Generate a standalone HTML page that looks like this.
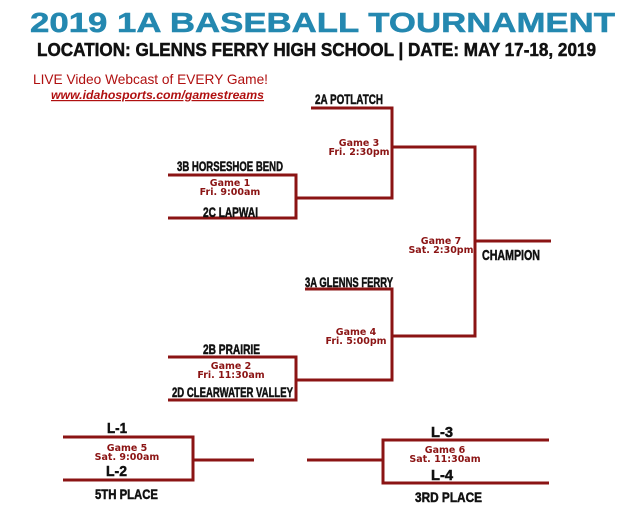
<!DOCTYPE html>
<html><head><meta charset="utf-8"><style>
html,body{margin:0;padding:0;background:#fff;width:640px;height:523px;overflow:hidden}
svg{display:block}
.t{font-family:"Liberation Sans",sans-serif;font-weight:bold;fill:#111;stroke:#111;stroke-width:0.5}
.g{font-family:"DejaVu Sans",sans-serif;font-weight:bold;fill:#8b1414;font-size:9.5px}
</style></head><body>
<svg width="640" height="523" viewBox="0 0 640 523">
<text x="30" y="32" class="t" style="fill:#2488b0;stroke:#2488b0;font-size:28px" textLength="585" lengthAdjust="spacingAndGlyphs">2019 1A BASEBALL TOURNAMENT</text>
<text x="37" y="56" class="t" style="font-size:18px" textLength="559" lengthAdjust="spacingAndGlyphs">LOCATION: GLENNS FERRY HIGH SCHOOL | DATE: MAY 17-18, 2019</text>
<text x="33" y="84" style="font-family:'Liberation Sans',sans-serif;font-size:14px;fill:#b01010" textLength="235" lengthAdjust="spacingAndGlyphs">LIVE Video Webcast of EVERY Game!</text>
<text x="51" y="99" style="font-family:'Liberation Sans',sans-serif;font-size:12px;font-style:italic;font-weight:bold;fill:#b01010;text-decoration:underline" textLength="213" lengthAdjust="spacingAndGlyphs">www.idahosports.com/gamestreams</text>
<g stroke="#8b1414" stroke-width="3" fill="none">
<polyline points="311,108 392,108 392,198 297,198"/>
<polyline points="168,175 296,175 296,218 168,218"/>
<polyline points="392,147 475,147 475,336 392,336"/>
<line x1="475" y1="241" x2="551" y2="241"/>
<polyline points="305,289 392,289 392,380 297,380"/>
<polyline points="168,357 296,357 296,400 168,400"/>
<polyline points="63,437 193,437 193,480 63,480"/>
<line x1="193" y1="460" x2="254" y2="460"/>
<line x1="307" y1="460" x2="383" y2="460"/>
<polyline points="549,440 383,440 383,483 549,483"/>
</g>
<g class="t" style="font-size:14px">
<text x="315" y="104" textLength="68" lengthAdjust="spacingAndGlyphs">2A POTLATCH</text>
<text x="177" y="171" textLength="106" lengthAdjust="spacingAndGlyphs">3B HORSESHOE BEND</text>
<text x="203" y="217" textLength="55" lengthAdjust="spacingAndGlyphs">2C LAPWAI</text>
<text x="482" y="260" style="font-size:15px" textLength="58" lengthAdjust="spacingAndGlyphs">CHAMPION</text>
<text x="305" y="287" textLength="88" lengthAdjust="spacingAndGlyphs">3A GLENNS FERRY</text>
<text x="203" y="354" textLength="57" lengthAdjust="spacingAndGlyphs">2B PRAIRIE</text>
<text x="172" y="397" textLength="121" lengthAdjust="spacingAndGlyphs">2D CLEARWATER VALLEY</text>
<text x="107" y="433" style="font-size:15px" textLength="20" lengthAdjust="spacingAndGlyphs">L-1</text>
<text x="106" y="476" style="font-size:15px" textLength="21" lengthAdjust="spacingAndGlyphs">L-2</text>
<text x="95" y="499" textLength="63" lengthAdjust="spacingAndGlyphs">5TH PLACE</text>
<text x="431" y="437" style="font-size:15px" textLength="22" lengthAdjust="spacingAndGlyphs">L-3</text>
<text x="431" y="480" style="font-size:15px" textLength="22" lengthAdjust="spacingAndGlyphs">L-4</text>
<text x="415" y="502" textLength="67" lengthAdjust="spacingAndGlyphs">3RD PLACE</text>
</g>
<g class="g" text-anchor="middle">
<text x="359" y="146">Game 3</text><text x="359" y="155">Fri. 2:30pm</text>
<text x="230" y="186">Game 1</text><text x="230" y="195">Fri. 9:00am</text>
<text x="441" y="244">Game 7</text><text x="441" y="253">Sat. 2:30pm</text>
<text x="356" y="335">Game 4</text><text x="356" y="344">Fri. 5:00pm</text>
<text x="231" y="369">Game 2</text><text x="231" y="378">Fri. 11:30am</text>
<text x="127" y="451">Game 5</text><text x="127" y="460">Sat. 9:00am</text>
<text x="445" y="453">Game 6</text><text x="445" y="462">Sat. 11:30am</text>
</g>
</svg>
</body></html>
